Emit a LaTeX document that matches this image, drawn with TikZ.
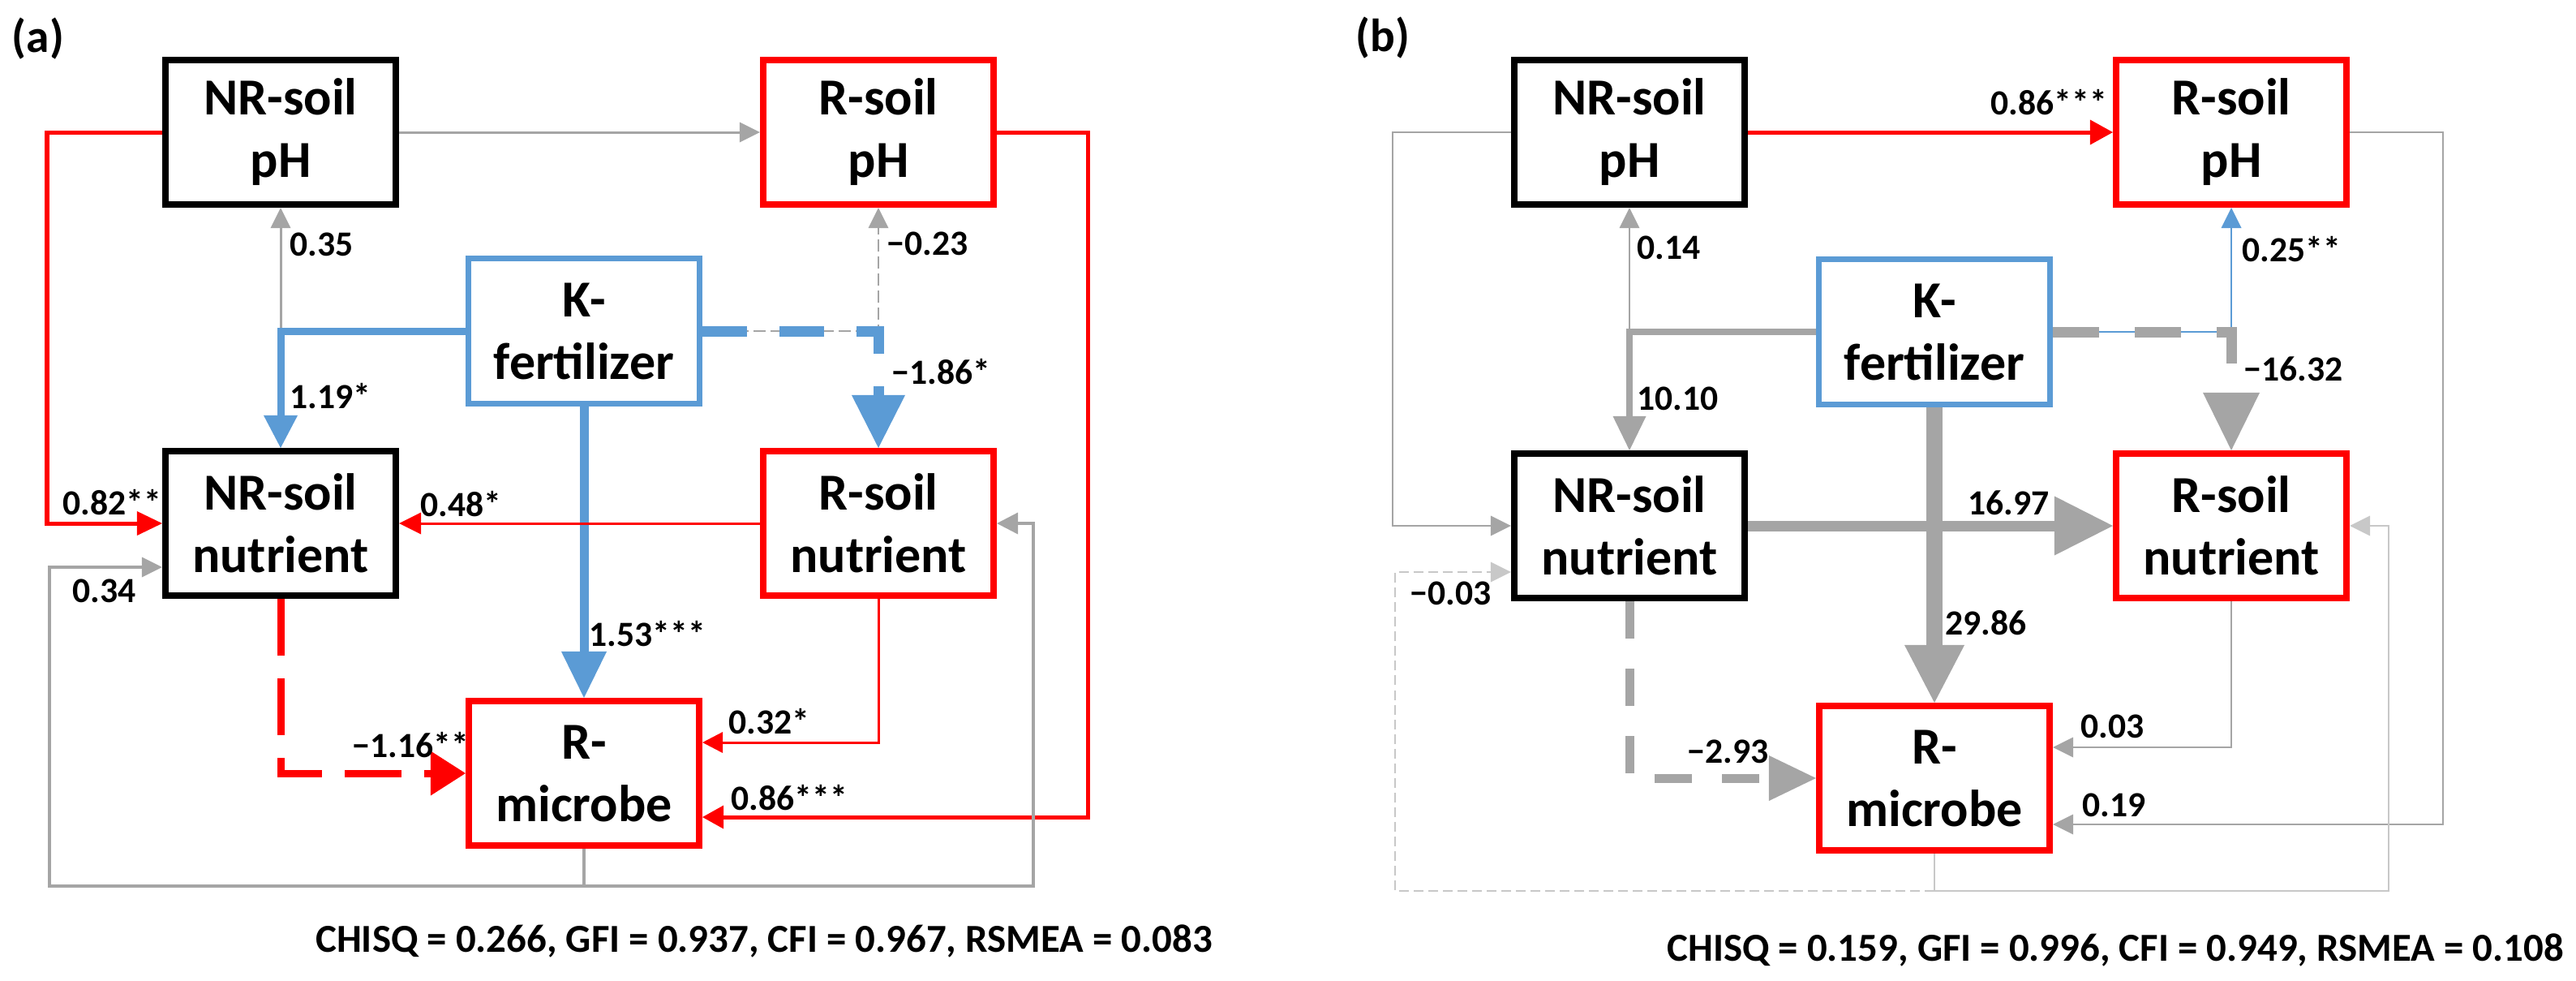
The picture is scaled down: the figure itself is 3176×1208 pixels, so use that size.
\documentclass[tikz,border=0pt]{standalone}
\usepackage{fontspec}
\setmainfont{Carlito}
\usetikzlibrary{arrows.meta}
\definecolor{cred}{RGB}{255,0,0}
\definecolor{cblue}{RGB}{91,155,213}
\definecolor{cgray}{RGB}{165,165,165}
\definecolor{clight}{RGB}{200,200,200}
\newcommand\bxfont{\fontsize{18.2}{21.9}\selectfont\bfseries}
\newcommand\lbfont{\fontsize{12.4}{14}\selectfont\bfseries}
\newcommand\ttlfont{\fontsize{16.3}{18}\selectfont\bfseries}
\newcommand\fitfont{\fontsize{13.9}{16}\selectfont\bfseries}
\begin{document}
\begin{tikzpicture}[x=0.01cm,y=-0.01cm,
  box/.style={draw, line width=0.8mm, minimum width=28.4mm, minimum height=17.8mm, align=center, inner sep=0pt, font=\bxfont},
  blackbox/.style={box, draw=black},
  redbox/.style={box, draw=cred},
  bluebox/.style={box, draw=cblue, line width=0.7mm, minimum width=28.5mm, minimum height=17.9mm},
  lab/.style={font=\lbfont, inner sep=0pt, anchor=west},
  hd/.style 2 args={-{Triangle[length=#1,width=#2,line width=0pt]}},
  smallhd/.style={hd={2.5mm}{2.5mm}}
]
\useasboundingbox (0,0) rectangle (3176,1208);

% ---------------- panel (a) ----------------
\node[font=\ttlfont, inner sep=0pt] (ta) at (47,48) {(a)};
\node[blackbox] (NRpHa) at (346,163) {NR-soil\\pH};
\node[redbox] (RpHa) at (1083,163) {R-soil\\pH};
\node[bluebox] (Ka) at (720,408) {K-\\fertilizer};
\node[blackbox] (NRnuta) at (346,645) {NR-soil\\nutrient};
\node[redbox] (Rnuta) at (1083,645) {R-soil\\nutrient};
\node[redbox] (Rmica) at (720,953) {R-\\microbe};

\coordinate (cA1) at (58,645);
\coordinate (cA2) at (346,408);
\coordinate (cA3) at (1083,408);
\coordinate (cA4) at (346,953);
\coordinate (cA5) at (1083,915);
\coordinate (cA6) at (1341,163);
\coordinate (cA7) at (1341,1007);
\coordinate (cA8) at (720,1092);
\coordinate (cA9) at (61,1092);
\coordinate (cA10) at (61,699);
\coordinate (cA11) at (1274,1092);
\coordinate (cA12) at (1274,645);

\draw[cred, line width=0.5mm, hd={3.1mm}{3mm}] (NRpHa.west) -| (cA1) -- (NRnuta.west);
\draw[cgray, line width=0.3mm, smallhd] (NRpHa.east) -- (RpHa.west);
\draw[cgray, line width=0.3mm, smallhd] (cA2) -- (NRpHa.south);
\draw[cblue, line width=0.9mm, hd={4mm}{4.2mm}] (Ka.west) -- (cA2) -- (NRnuta.north);
\draw[cgray, line width=0.25mm, dash pattern=on 1.5mm off 0.6mm, smallhd] (Ka.east) -- (cA3) -- (RpHa.south);
\draw[cblue, line width=1.3mm, dash pattern=on 5.5mm off 4mm, hd={6.5mm}{6.6mm}] (Ka.east) -- (cA3) -- (Rnuta.north);
\draw[cblue, line width=1.1mm, hd={5.7mm}{5.6mm}] (Ka.south) -- (Rmica.north);
\draw[cred, line width=0.3mm, hd={2.7mm}{2.7mm}] (Rnuta.west) -- (NRnuta.east);
\draw[cred, line width=0.9mm, dash pattern=on 7mm off 2.8mm, hd={4.3mm}{5.5mm}] (NRnuta.south) -- (cA4) -- (Rmica.west);
\draw[cred, line width=0.3mm, hd={2.5mm}{2.6mm}] (Rnuta.south) -- (cA5) -- (Rmica.east |- cA5);
\draw[cred, line width=0.5mm, hd={2.6mm}{2.9mm}] (RpHa.east) -- (cA6) -- (cA7) -- (Rmica.east |- cA7);
\draw[cgray, line width=0.35mm] (Rmica.south) -- (cA8);
\draw[cgray, line width=0.35mm, smallhd] (cA8) -- (cA9) -- (cA10) -- (NRnuta.west |- cA10);
\draw[cgray, line width=0.35mm, hd={2.6mm}{2.7mm}] (cA8) -- (cA11) -- (cA12) -- (Rnuta.east);

\node[lab] (la1) at (77,619) {0.82**};
\node[lab] (la2) at (357,301) {0.35};
\node[lab] (la3) at (357,488) {1.19*};
\node[lab] (la4) at (1093,300) {−0.23};
\node[lab] (la5) at (1099,458) {−1.86*};
\node[lab] (la6) at (518,621) {0.48*};
\node[lab] (la7) at (89,728) {0.34};
\node[lab] (la8) at (726,781) {1.53***};
\node[lab] (la9) at (434,918) {−1.16**};
\node[lab] (la10) at (898,889) {0.32*};
\node[lab] (la11) at (901,983) {0.86***};
\node[font=\fitfont, inner sep=0pt] (fa) at (942,1160) {CHISQ = 0.266, GFI = 0.937, CFI = 0.967, RSMEA = 0.083};

% ---------------- panel (b) ----------------
\node[font=\ttlfont, inner sep=0pt] (tb) at (1705,47) {(b)};
\node[blackbox] (NRpHb) at (2009,163) {NR-soil\\pH};
\node[redbox] (RpHb) at (2751,163) {R-soil\\pH};
\node[bluebox] (Kb) at (2385,409) {K-\\fertilizer};
\node[blackbox] (NRnutb) at (2009,648) {NR-soil\\nutrient};
\node[redbox] (Rnutb) at (2751,648) {R-soil\\nutrient};
\node[redbox] (Rmicb) at (2385,959) {R-\\microbe};

\coordinate (cB1) at (1717,163);
\coordinate (cB2) at (1717,648);
\coordinate (cB3) at (2009,409);
\coordinate (cB4) at (2751,409);
\coordinate (cB5) at (2009,959);
\coordinate (cB6) at (2751,921);
\coordinate (cB7) at (3012,163);
\coordinate (cB8) at (3012,1016);
\coordinate (cB9) at (2385,1098);
\coordinate (cB10) at (2945,1098);
\coordinate (cB11) at (2945,648);
\coordinate (cB12) at (1720,1098);
\coordinate (cB13) at (1720,705);

\draw[cgray, line width=0.2mm, smallhd] (NRpHb.west) -- (cB1) -- (cB2) -- (NRnutb.west);
\draw[cred, line width=0.5mm, hd={2.8mm}{3.1mm}] (NRpHb.east) -- (RpHb.west);
\draw[cgray, line width=0.2mm, smallhd] (cB3) -- (NRpHb.south);
\draw[cgray, line width=0.8mm, hd={4.2mm}{4.1mm}] (Kb.west) -- (cB3) -- (NRnutb.north);
\draw[cblue, line width=0.25mm, smallhd] (Kb.east) -- (cB4) -- (RpHb.south);
\draw[cgray, line width=1.3mm, dash pattern=on 5.7mm off 4.4mm, hd={7.1mm}{7mm}] (Kb.east) -- (cB4) -- (Rnutb.north);
\draw[cgray, line width=2mm, hd={7.1mm}{7.4mm}] (Kb.south) -- (Rmicb.north);
\draw[cgray, line width=1.3mm, hd={7.2mm}{7.3mm}] (NRnutb.east) -- (Rnutb.west);
\draw[cgray, line width=1.1mm, dash pattern=on 4.6mm off 3.7mm, hd={5.8mm}{5.6mm}] (NRnutb.south) -- (cB5) -- (Rmicb.west);
\draw[cgray, line width=0.2mm, smallhd] (Rnutb.south) -- (cB6) -- (Rmicb.east |- cB6);
\draw[cgray, line width=0.25mm, smallhd] (RpHb.east) -- (cB7) -- (cB8) -- (Rmicb.east |- cB8);
\draw[clight, line width=0.2mm] (Rmicb.south) -- (cB9);
\draw[clight, line width=0.2mm, smallhd] (cB9) -- (cB10) -- (cB11) -- (Rnutb.east);
\draw[clight, line width=0.2mm, dash pattern=on 1.2mm off 0.6mm, smallhd] (cB9) -- (cB12) -- (cB13) -- (NRnutb.west |- cB13);

\node[lab] (lb1) at (2454,126) {0.86***};
\node[lab] (lb2) at (2018,305) {0.14};
\node[lab] (lb3) at (2018,491) {10.10};
\node[lab] (lb4) at (2764,307) {0.25**};
\node[lab] (lb5) at (2766,455) {−16.32};
\node[lab] (lb6) at (2426,620) {16.97};
\node[lab] (lb7) at (2398,768) {29.86};
\node[lab] (lb8) at (1738,731) {−0.03};
\node[lab] (lb9) at (2080,926) {−2.93};
\node[lab] (lb10) at (2565,895) {0.03};
\node[lab] (lb11) at (2567,992) {0.19};
\node[font=\fitfont, inner sep=0pt] (fb) at (2608,1171) {CHISQ = 0.159, GFI = 0.996, CFI = 0.949, RSMEA = 0.108};
\end{tikzpicture}
\end{document}
